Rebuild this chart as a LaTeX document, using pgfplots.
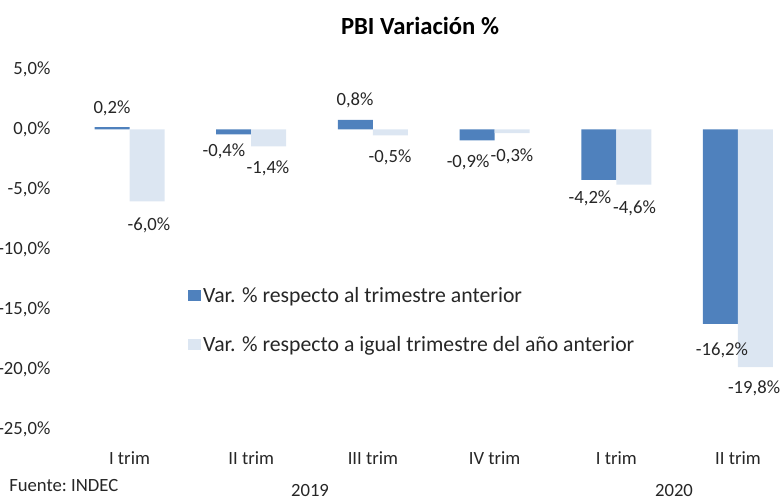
\documentclass[border=0pt]{standalone}
\usepackage{fontspec}
\setmainfont{Carlito}
\usepackage{pgfplots}
\pgfplotsset{compat=1.18}
\definecolor{darkb}{HTML}{4F81BD}
\definecolor{lightb}{HTML}{DCE6F2}
\definecolor{txt}{HTML}{262626}
\begin{document}
\begin{tikzpicture}
\useasboundingbox (0,0) rectangle (587.25pt,375pt);
\begin{axis}[
  at={(51.49pt,52.875pt)}, anchor=south west,
  scale only axis, width=547.65pt, height=270pt,
  xmin=-0.5, xmax=5.5, ymin=-25, ymax=5,
  enlargelimits=false,
  axis line style={draw=none}, tick style={draw=none}, major tick length=0pt,
  xtick={0,1,2,3,4,5},
  xticklabels={I trim, II trim, III trim, IV trim, I trim, II trim},
  ytick={-25,-20,-15,-10,-5,0,5},
  /pgf/number format/assume math mode=true,
  yticklabel={\pgfmathprintnumber[fixed,fixed zerofill,precision=1,use comma]{\tick}\%},
  ticklabel style={font=\fontsize{14}{16}\selectfont, text=txt},
  yticklabel style={anchor=east, inner sep=0pt, xshift=-13.5pt},
  xticklabel style={anchor=base, inner sep=0pt, yshift=-26.6pt},
  legend style={draw=none, fill=none, at={(0.1634,0.404)}, anchor=north west,
    font=\fontsize{16.3}{19}\selectfont, text=txt, row sep=20pt, inner sep=0pt},
  legend cell align=left,
]
\addplot[ybar, bar width=26.25pt, bar shift=-13.125pt, fill=darkb, draw=none,
  legend image code/.code={\fill[darkb] (0pt,-4.3pt) rectangle (9.2pt,4.3pt);}]
  coordinates {(0,0.2) (1,-0.4) (2,0.8) (3,-0.9) (4,-4.2) (5,-16.2)};
\addlegendentry{Var. \% respecto al trimestre anterior}
\addplot[ybar, bar width=26.25pt, bar shift=13.125pt, fill=lightb, draw=none,
  legend image code/.code={\fill[lightb] (0pt,-4.3pt) rectangle (9.2pt,4.3pt);}]
  coordinates {(0,-6.0) (1,-1.4) (2,-0.5) (3,-0.3) (4,-4.6) (5,-19.8)};
\addlegendentry{Var. \% respecto a igual trimestre del año anterior}
\addplot[draw=none, mark=none, forget plot, point meta=explicit,
  nodes near coords={\pgfmathprintnumber[fixed,fixed zerofill,precision=1,use comma]{\pgfplotspointmeta}\%},
  nodes near coords style={anchor=center, inner sep=0pt, font=\fontsize{14}{16}\selectfont, text=txt}]
  table[x=x, y=y, meta=v] {
x y v
-0.144 1.79 0.2
0.160 -7.96 -6.0
0.776 -1.85 -0.4
1.138 -3.21 -1.4
1.853 2.46 0.8
2.141 -2.35 -0.5
2.782 -2.77 -0.9
3.143 -2.27 -0.3
3.784 -5.71 -4.2
4.150 -6.54 -4.6
4.868 -18.375 -16.2
5.132 -21.54 -19.8
};
\end{axis}
\node[font=\bfseries\fontsize{18.5}{20}\selectfont, text=black] at (315pt,355.5pt) {PBI Variación \%};
\node[font=\fontsize{14}{16}\selectfont, text=txt, anchor=west, inner sep=0pt] at (6.75pt,10.5pt) {Fuente:\ INDEC};
\node[font=\fontsize{14}{16}\selectfont, text=txt, inner sep=0pt] at (232.5pt,7pt) {2019};
\node[font=\fontsize{14}{16}\selectfont, text=txt, inner sep=0pt] at (505.5pt,7pt) {2020};
\end{tikzpicture}
\end{document}
